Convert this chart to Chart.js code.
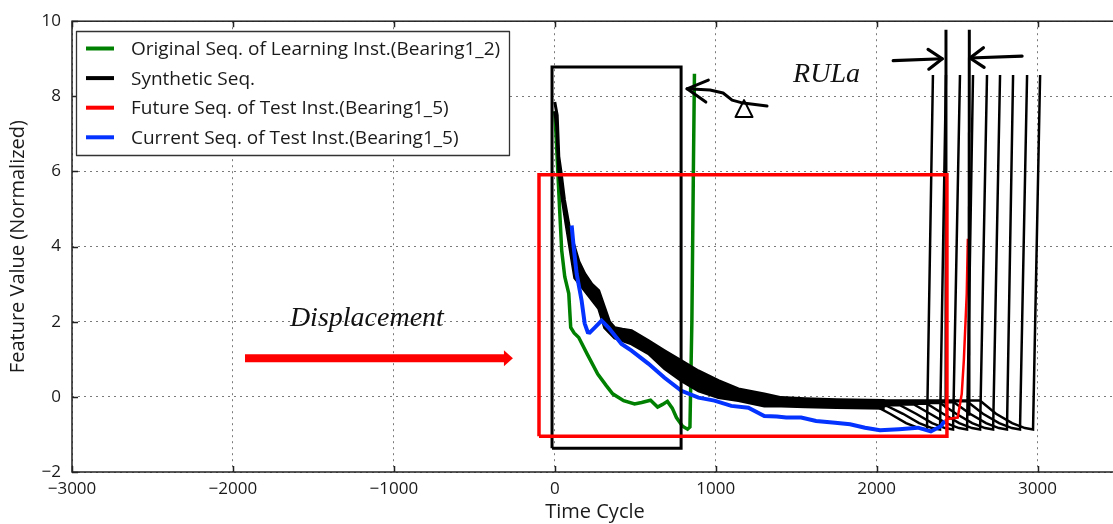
<!DOCTYPE html>
<html>
<head>
<meta charset="utf-8">
<script src="https://cdn.jsdelivr.net/npm/chart.js@4.4.1/dist/chart.umd.min.js"></script>
<style>
  html, body { margin: 0; padding: 0; background: #fff; overflow: hidden; }
</style>
</head>
<body>
<canvas id="chart" width="1118" height="524"></canvas>
<script>
// ---------------------------------------------------------------- data
const xTicks = [-3000, -2000, -1000, 0, 1000, 2000, 3000];
const yTicks = [-2, 0, 2, 4, 6, 8, 10];

const seriesLabels = [
    'Original Seq. of Learning Inst.(Bearing1_2)',
    'Synthetic Seq.',
    'Future Seq. of Test Inst.(Bearing1_5)',
    'Current Seq. of Test Inst.(Bearing1_5)'
];

// [time cycle, feature value]
const originalSeq = [[0,7.6],[10,6.8],[20,5.9],[30,5.0],[43,3.9],[62,3.2],[87,2.75],[99,1.85],[120,1.7],
    [149,1.58],[200,1.15],[267,0.61],[320,0.3],[360,0.08],[428,-0.1],[496,-0.19],[540,-0.15],[595,-0.09],
    [639,-0.27],[670,-0.2],[700,-0.12],[730,-0.3],[756,-0.55],[794,-0.78],[825,-0.86],[840,-0.8],
    [852,2.0],[862,6.3],[868,8.6]];

const currentSeq = [[105,4.56],[118,3.97],[136,3.28],[167,2.56],[186,1.95],[205,1.72],[217,1.71],[250,1.85],
    [291,2.03],[335,1.84],[415,1.41],[477,1.23],[583,0.88],[682,0.51],[787,0.16],[893,-0.02],[992,-0.1],
    [1097,-0.24],[1203,-0.29],[1302,-0.51],[1380,-0.52],[1438,-0.55],[1531,-0.55],[1624,-0.64],[1742,-0.69],
    [1835,-0.73],[1928,-0.82],[2021,-0.89],[2139,-0.86],[2257,-0.82],[2337,-0.92],[2399,-0.78],[2424,-0.64]];

const futureSeq = [[2424,-0.64],[2443,-0.59],[2504,-0.55],[2529,0.08],[2542,0.97],[2560,2.74],[2567,4.21]];

// synthetic bundle: upper and lower edge of the dense band
const synthUpper = [[0,7.85],[15,7.5],[25,6.4],[40,5.95],[60,5.25],[95,4.4],[124,3.97],[150,3.6],[186,3.28],
    [230,3.0],[273,2.83],[310,2.37],[340,2.0],[372,1.84],[420,1.8],[477,1.76],[583,1.49],[682,1.23],
    [787,0.96],[893,0.69],[1017,0.43],[1141,0.21],[1302,0.08],[1407,-0.02],[1556,-0.05],[1750,-0.08],[2050,-0.1]];
const synthLower = [[0,7.6],[12,7.2],[25,6.0],[45,5.3],[70,4.6],[100,3.8],[124,3.17],[186,2.83],[273,2.35],
    [310,1.84],[372,1.57],[477,1.41],[583,1.15],[682,0.75],[787,0.43],[893,0.16],[1017,-0.02],[1141,-0.1],
    [1302,-0.24],[1407,-0.24],[1556,-0.26],[1750,-0.28],[2050,-0.3]];

// synthetic tails (end of life of each synthetic sequence)
const synthTails = [
    [[2000,-0.26],[2083,-0.45],[2183,-0.7],[2263,-0.83],[2313,-0.87],[2350,8.57]],
    [[2000,-0.24],[2064,-0.24],[2164,-0.45],[2264,-0.7],[2344,-0.83],[2394,-0.87],[2431,8.57]],
    [[2000,-0.22],[2145,-0.22],[2245,-0.45],[2345,-0.7],[2425,-0.83],[2475,-0.87],[2518,8.57]],
    [[2000,-0.2],[2232,-0.2],[2332,-0.45],[2432,-0.7],[2512,-0.83],[2562,-0.87],[2599,8.57]],
    [[2000,-0.18],[2313,-0.18],[2413,-0.45],[2513,-0.7],[2593,-0.83],[2643,-0.87],[2686,8.57]],
    [[2000,-0.16],[2394,-0.16],[2494,-0.45],[2594,-0.7],[2674,-0.83],[2724,-0.87],[2767,8.57]],
    [[2000,-0.14],[2480,-0.14],[2580,-0.45],[2680,-0.7],[2760,-0.83],[2810,-0.87],[2848,8.57]],
    [[2000,-0.12],[2561,-0.12],[2661,-0.45],[2761,-0.7],[2841,-0.83],[2891,-0.87],[2935,8.57]],
    [[2000,-0.1],[2642,-0.1],[2742,-0.45],[2842,-0.7],[2922,-0.83],[2972,-0.87],[3016,8.57]]
];

// annotation marks, in data units
const learningBox = [[-17,-1.37],[785,-1.37],[785,8.78],[-17,8.78],[-17,-1.37]];
const testBox = [[-98,-1.05],[2437,-1.05],[2437,5.91],[-98,5.91],[-98,-1.05]];
const rulaLines = [[[2431,-0.3],[2431,9.77]], [[2574,-0.5],[2576,9.77]]];
const rulaArrows = [[[2103,8.95],[2408,9.0]], [[2904,9.07],[2580,9.02]]];
const displacementArrow = [[-1925,1.03],[-260,1.03]];
const deltaCurve = [[1319,7.74],[1170,7.82],[1102,7.9],[1046,8.09],[965,8.17],[822,8.2]];
const deltaMark = [1176, 7.45, 7.9];     // x, base, apex
const textMarks = [['Displacement', -1646, 1.885], ['RULa', 1481, 8.39]];

// ---------------------------------------------------------------- build
const pts = arr => arr.map(p => ({x: p[0], y: p[1]}));
const FONT = "'Open Sans', 'DejaVu Sans', sans-serif";
const colors = {green: '#008000', black: '#000000', red: '#ff0000', blue: '#0433ff'};

function line(data, color, width, extra) {
    return Object.assign({
        data: pts(data), borderColor: color, backgroundColor: color, borderWidth: width,
        pointRadius: 0, fill: false, tension: 0
    }, extra || {});
}

// first dataset is drawn on top
const datasets = [];
datasets.push(line(testBox, colors.red, 3.5));
datasets.push(line(learningBox, colors.black, 3));
rulaLines.forEach(l => datasets.push(line(l, colors.black, 3)));
datasets.push(line(currentSeq, colors.blue, 4, {label: seriesLabels[3]}));
datasets.push(line(futureSeq, colors.red, 2.5, {label: seriesLabels[2]}));
synthTails.forEach(t => datasets.push(line(t, colors.black, 2.5)));
datasets.push(line(synthLower, colors.black, 3, {fill: '+1'}));
datasets.push(line(synthUpper, colors.black, 3, {label: seriesLabels[1]}));
datasets.push(line(originalSeq, colors.green, 3.5, {label: seriesLabels[0]}));

const minus = v => String(v).replace('-', '\u2212');

const overlay = {
    id: 'overlay',
    afterDatasetsDraw(chart) {
        const {ctx, chartArea: a, scales: {x, y}} = chart;
        const px = v => x.getPixelForValue(v), py = v => y.getPixelForValue(v);
        ctx.save();

        // spines + inward ticks
        ctx.strokeStyle = '#222';
        ctx.lineWidth = 1.5;
        ctx.strokeRect(a.left, a.top, a.right - a.left, a.bottom - a.top);
        ctx.beginPath();
        xTicks.forEach(v => {
            const X = Math.round(px(v)) + 0.5;
            ctx.moveTo(X, a.bottom); ctx.lineTo(X, a.bottom - 6);
            ctx.moveTo(X, a.top); ctx.lineTo(X, a.top + 6);
        });
        yTicks.forEach(v => {
            const Y = Math.round(py(v)) + 0.5;
            ctx.moveTo(a.left, Y); ctx.lineTo(a.left + 6, Y);
        });
        ctx.stroke();

        // chevron helper
        function chevron(x1, y1, x0, y0, len, spread) {
            const ang = Math.atan2(y1 - y0, x1 - x0);
            ctx.beginPath();
            ctx.moveTo(x1 - len * Math.cos(ang - spread), y1 - len * Math.sin(ang - spread));
            ctx.lineTo(x1, y1);
            ctx.lineTo(x1 - len * Math.cos(ang + spread), y1 - len * Math.sin(ang + spread));
            ctx.stroke();
        }

        // displacement arrow
        const d0 = displacementArrow[0], d1 = displacementArrow[1];
        const tipX = px(d1[0]), tipY = py(d1[1]);
        ctx.strokeStyle = colors.red; ctx.fillStyle = colors.red;
        ctx.lineWidth = 8; ctx.lineCap = 'butt';
        ctx.beginPath(); ctx.moveTo(px(d0[0]), py(d0[1])); ctx.lineTo(tipX - 8, tipY); ctx.stroke();
        ctx.beginPath(); ctx.moveTo(tipX, tipY); ctx.lineTo(tipX - 9, tipY - 8); ctx.lineTo(tipX - 9, tipY + 8);
        ctx.closePath(); ctx.fill();

        // RULa arrows
        ctx.strokeStyle = '#000'; ctx.lineWidth = 3.2; ctx.lineCap = 'round'; ctx.lineJoin = 'round';
        rulaArrows.forEach(ar => {
            const X0 = px(ar[0][0]), Y0 = py(ar[0][1]), X1 = px(ar[1][0]), Y1 = py(ar[1][1]);
            ctx.beginPath(); ctx.moveTo(X0, Y0); ctx.lineTo(X1, Y1); ctx.stroke();
            chevron(X1, Y1, X0, Y0, 17, 0.62);
        });

        // delta curve with arrow
        ctx.lineWidth = 3;
        ctx.beginPath();
        deltaCurve.forEach((p, i) => {
            const X = px(p[0]), Y = py(p[1]);
            if (i === 0) ctx.moveTo(X, Y); else ctx.lineTo(X, Y);
        });
        ctx.stroke();
        const n = deltaCurve.length;
        chevron(px(deltaCurve[n - 1][0]), py(deltaCurve[n - 1][1]),
                px(deltaCurve[n - 3][0]), py(deltaCurve[n - 3][1]), 23, 0.5);
        // delta triangle
        const tx = px(deltaMark[0]), tb = py(deltaMark[1]), ta = py(deltaMark[2]);
        ctx.lineWidth = 2;
        ctx.beginPath(); ctx.moveTo(tx, ta); ctx.lineTo(tx + 8.5, tb); ctx.lineTo(tx - 8.5, tb); ctx.closePath(); ctx.stroke();

        // italic text marks
        ctx.fillStyle = '#111';
        ctx.font = "italic 28px 'Liberation Serif', 'DejaVu Serif', serif";
        ctx.textBaseline = 'alphabetic'; ctx.textAlign = 'left';
        textMarks.forEach(t => ctx.fillText(t[0], px(t[1]), py(t[2])));

        // legend
        const L = 76, T = 31, R = 509, B = 155;
        ctx.fillStyle = '#fff'; ctx.fillRect(L, T, R - L, B - T);
        ctx.strokeStyle = '#333'; ctx.lineWidth = 1.3; ctx.strokeRect(L + 0.5, T + 0.5, R - L, B - T);
        ctx.font = '19px ' + FONT;
        seriesLabels.forEach((lab, i) => {
            const ds = chart.data.datasets.find(d => d.label === lab);
            const base = 55 + i * 29.6;
            ctx.strokeStyle = ds.borderColor; ctx.lineWidth = 4; ctx.lineCap = 'butt';
            ctx.beginPath(); ctx.moveTo(86, base - 6.5); ctx.lineTo(114, base - 6.5); ctx.stroke();
            ctx.fillStyle = '#1a1a1a';
            ctx.fillText(lab, 131, base);
        });
        ctx.restore();
    }
};

new Chart(document.getElementById('chart'), {
    type: 'line',
    data: {datasets: datasets},
    options: {
        responsive: false,
        devicePixelRatio: 1,
        animation: false,
        parsing: true,
        layout: {padding: {top: 21, left: 0, right: 0, bottom: 0}},
        plugins: {legend: {display: false}, tooltip: {enabled: false}},
        scales: {
            x: {
                type: 'linear', min: -3000, max: 3500,
                afterBuildTicks: s => { s.ticks = xTicks.map(v => ({value: v})); },
                afterFit: s => { s.height = 52; },
                grid: {color: '#7a7a7a', lineWidth: 1, drawTicks: false},
                border: {display: false, dash: [2, 4]},
                ticks: {padding: 7, color: '#1a1a1a', font: {family: FONT, size: 17}, callback: v => minus(v)},
                title: {display: true, text: 'Time Cycle', color: '#1a1a1a',
                        font: {family: FONT, size: 20}, padding: {top: 0, bottom: 0}}
            },
            y: {
                type: 'linear', min: -2, max: 10,
                afterBuildTicks: s => { s.ticks = yTicks.map(v => ({value: v})); },
                afterFit: s => { s.width = 72; },
                grid: {color: '#7a7a7a', lineWidth: 1, drawTicks: false},
                border: {display: false, dash: [2, 4]},
                ticks: {padding: 11, color: '#1a1a1a', font: {family: FONT, size: 17}, callback: v => minus(v)},
                title: {display: true, text: 'Feature Value (Normalized)', color: '#1a1a1a',
                        font: {family: FONT, size: 20}, padding: {top: 6, bottom: 0}}
            }
        }
    },
    plugins: [overlay]
});
</script>
</body>
</html>
